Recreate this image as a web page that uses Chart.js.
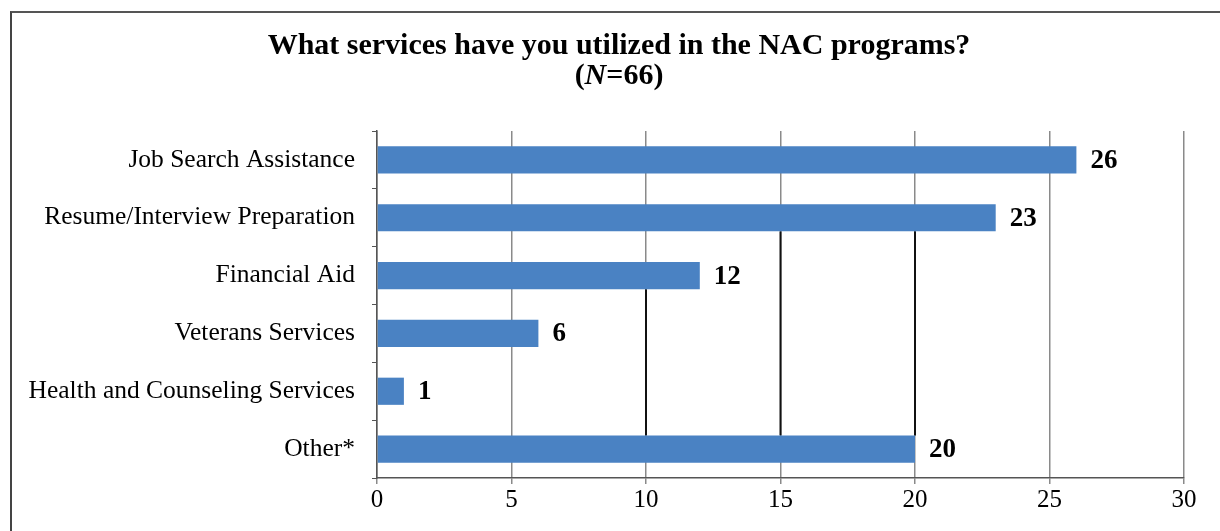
<!DOCTYPE html>
<html>
<head>
<meta charset="utf-8">
<script src="https://cdn.jsdelivr.net/npm/chart.js@4.4.1/dist/chart.umd.min.js"></script>
<style>
  html, body { margin: 0; padding: 0; background: #ffffff; }
  #wrap { position: relative; width: 1220px; height: 531px; overflow: hidden; }
  #frame {
    position: absolute; left: 10px; top: 11px; width: 1230px; height: 540px;
    border-top: 2px solid #555; border-left: 2px solid #444; box-sizing: border-box;
  }
  canvas { position: absolute; left: 0; top: 0; }
</style>
</head>
<body>
<div id="wrap">
  <div id="frame"></div>
  <canvas id="chart" width="1220" height="531"></canvas>
</div>
<script>
const categories = [
  'Job Search Assistance',
  'Resume/Interview Preparation',
  'Financial Aid',
  'Veterans Services',
  'Health and Counseling Services',
  'Other*'
];
const counts = [26, 23, 12, 6, 1, 20];
const axisMin = 0;
const axisMax = 30;
const axisStep = 5;
// gridlines printed darker between the bars
const darkGridTicks = [10, 15, 20];
const titleLine = 'What services have you utilized in the NAC programs?';
const sampleSize = 66;

const SERIF = '"Liberation Serif", "DejaVu Serif", serif';

// Two-line heading with an italic N in the sample-size line
const headingPlugin = {
  id: 'heading',
  afterDraw(chart) {
    const ctx = chart.ctx;
    const cx = 619;
    ctx.save();
    ctx.fillStyle = '#000';
    ctx.textBaseline = 'alphabetic';
    ctx.font = 'bold 30px ' + SERIF;
    ctx.textAlign = 'center';
    ctx.fillText(titleLine, cx, 54);
    const parts = [
      { t: '(', f: 'bold 30px ' + SERIF },
      { t: 'N', f: 'italic bold 30px ' + SERIF },
      { t: '=' + sampleSize + ')', f: 'bold 30px ' + SERIF }
    ];
    let total = 0;
    parts.forEach(p => { ctx.font = p.f; p.w = ctx.measureText(p.t).width; total += p.w; });
    let x = cx - total / 2;
    ctx.textAlign = 'left';
    parts.forEach(p => { ctx.font = p.f; ctx.fillText(p.t, x, 84); x += p.w; });
    ctx.restore();
  }
};

// Darker stretches of selected gridlines, running between the bars
const darkGridPlugin = {
  id: 'darkGrid',
  beforeDatasetsDraw(chart) {
    const ctx = chart.ctx;
    const xs = chart.scales.x;
    const meta = chart.getDatasetMeta(0);
    const last = meta.data[meta.data.length - 1];
    const lastTop = last.y - last.height / 2;
    ctx.save();
    ctx.strokeStyle = '#111';
    ctx.lineWidth = 2;
    darkGridTicks.forEach(v => {
      let idx = -1;
      for (let i = 0; i < counts.length - 1; i++) if (counts[i] >= v) idx = i;
      if (idx < 0) return;
      const b = meta.data[idx];
      const x = xs.getPixelForValue(v);
      ctx.beginPath();
      ctx.moveTo(x, b.y + b.height / 2);
      ctx.lineTo(x, lastTop);
      ctx.stroke();
    });
    ctx.restore();
  }
};

// Value printed just past the end of each bar
const valueLabelPlugin = {
  id: 'valueLabels',
  afterDatasetsDraw(chart) {
    const ctx = chart.ctx;
    const meta = chart.getDatasetMeta(0);
    ctx.save();
    ctx.fillStyle = '#000';
    ctx.font = 'bold 27px ' + SERIF;
    ctx.textAlign = 'left';
    ctx.textBaseline = 'middle';
    meta.data.forEach((bar, i) => {
      ctx.fillText(String(counts[i]), bar.x + 14, bar.y + 1);
    });
    ctx.restore();
  }
};

new Chart(document.getElementById('chart'), {
  type: 'bar',
  data: {
    labels: categories,
    datasets: [{
      data: counts,
      backgroundColor: '#4a82c3',
      borderWidth: 0,
      categoryPercentage: 1.0,
      barPercentage: 0.47
    }]
  },
  options: {
    indexAxis: 'y',
    responsive: false,
    animation: false,
    devicePixelRatio: 1,
    layout: { padding: { left: 0, right: 36, top: 131, bottom: 0 } },
    plugins: {
      legend: { display: false },
      tooltip: { enabled: false },
      title: { display: false }
    },
    scales: {
      x: {
        min: axisMin,
        max: axisMax,
        ticks: {
          stepSize: axisStep,
          color: '#000',
          font: { family: SERIF, size: 25 },
          padding: 1
        },
        grid: {
          color: '#8a8a8a',
          lineWidth: 1.5,
          tickLength: 6,
          drawTicks: true
        },
        border: { color: '#555', width: 1.5 },
        afterFit(scale) { scale.height = 53; }
      },
      y: {
        ticks: {
          color: '#000',
          font: { family: SERIF, size: 25.5 },
          padding: 17
        },
        grid: {
          drawOnChartArea: false,
          color: '#555',
          tickLength: 5
        },
        border: { color: '#555', width: 1.5 },
        afterFit(scale) { scale.width = 377; }
      }
    }
  },
  plugins: [headingPlugin, darkGridPlugin, valueLabelPlugin]
});
</script>
</body>
</html>
